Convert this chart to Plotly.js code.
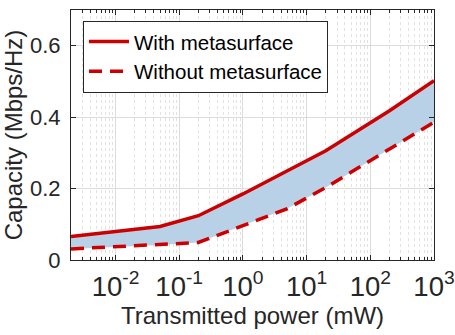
<!DOCTYPE html>
<html>
<head>
<meta charset="utf-8">
<script src="https://cdn.plot.ly/plotly-3.0.1.min.js"></script>
<style>
  body { margin: 0; background: #fff; }
  #plotArea { width: 455px; height: 335px; }
</style>
</head>
<body>
<div id="plotArea"></div>
<script>
// transmitted power (mW) and capacity
var power = [0.002, 0.05, 0.2, 1, 5, 20, 200, 1000];
var withMeta = [0.066, 0.094, 0.124, 0.185, 0.25, 0.306, 0.418, 0.502];
var withoutMeta = [0.031, 0.042, 0.049, 0.096, 0.144, 0.203, 0.31, 0.386];

// plotly writes 10^0 and 10^1 as "1" and "10", so alias them to powers
var xLabelAlias = {
    "1": "10<sup>0</sup>",
    "10": "10<sup>1</sup>",
    "10<sup>\u22122</sup>": "10<sup>-2</sup>",
    "10<sup>\u22121</sup>": "10<sup>-1</sup>"
};
var yTickVals = [0, 0.2, 0.4, 0.6];
var yTickText = ["0", "0.2", "0.4", "0.6"];

var red = "#cc0000";
var fillBlue = "rgb(185,209,230)";
var axisGrey = "#262626";

// shaded band between the two curves
var bandLow = {
    x: power, y: withoutMeta,
    mode: "lines", line: {width: 0, color: fillBlue},
    showlegend: false, hoverinfo: "skip"
};
var bandHigh = {
    x: power, y: withMeta,
    mode: "lines", line: {width: 0, color: fillBlue},
    fill: "tonexty", fillcolor: fillBlue,
    showlegend: false, hoverinfo: "skip"
};

var traceWith = {
    x: power, y: withMeta,
    mode: "lines", name: "With metasurface",
    line: {color: red, width: 3.5}
};
var traceWithout = {
    x: power, y: withoutMeta,
    mode: "lines", name: "Without metasurface",
    line: {color: red, width: 3.5, dash: "13px,8px"}
};

var fam = "Liberation Sans, Arial, sans-serif";
var tickFont = {family: fam, size: 22, color: axisGrey};
var titleFont = {family: fam, size: 24, color: axisGrey};

var layout = {
    width: 455, height: 335,
    margin: {l: 71, r: 21, t: 10, b: 75},
    paper_bgcolor: "#fff", plot_bgcolor: "#fff",
    showlegend: true,
    legend: {
        x: 0.033, y: 0.957, xanchor: "left", yanchor: "top",
        traceorder: "normal",
        bgcolor: "#fff", bordercolor: axisGrey, borderwidth: 1,
        font: {family: fam, size: 20.5, color: "#000"},
        itemwidth: 40, tracegroupgap: 0
    },
    xaxis: {
        type: "log",
        range: [Math.log10(0.002), 3],
        tickmode: "linear", tick0: 0, dtick: 1,
        exponentformat: "power",
        labelalias: xLabelAlias,
        ticklabeloverflow: "allow",
        ticklabelstandoff: 3,
        showline: true, linecolor: axisGrey, linewidth: 1, mirror: "allticks",
        ticks: "inside", ticklen: 5, tickcolor: axisGrey,
        showgrid: true, gridcolor: "#dcdcdc", gridwidth: 1,
        zeroline: false,
        tickfont: tickFont,
        minor: {ticks: "inside", ticklen: 3, tickcolor: axisGrey,
                showgrid: true, gridcolor: "#e2e2e2", griddash: "dot", gridwidth: 1},
        title: {text: "Transmitted power (mW)", font: titleFont, standoff: 4}
    },
    yaxis: {
        range: [0, 0.7],
        tickvals: yTickVals, ticktext: yTickText,
        showline: true, linecolor: axisGrey, linewidth: 1, mirror: "allticks",
        ticks: "inside", ticklen: 5, tickcolor: axisGrey,
        ticklabelstandoff: 5,
        showgrid: true, gridcolor: "#dcdcdc", gridwidth: 1,
        zeroline: false,
        tickfont: tickFont,
        title: {text: "Capacity (Mbps/Hz)", font: titleFont, standoff: 4}
    }
};

Plotly.newPlot("plotArea", [bandLow, bandHigh, traceWith, traceWithout], layout, {displayModeBar: false, staticPlot: true});
</script>
</body>
</html>
